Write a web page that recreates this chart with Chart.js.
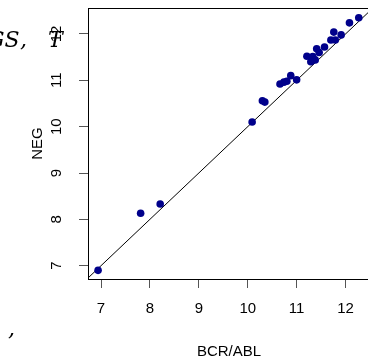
<!DOCTYPE html>
<html>
<head>
<meta charset="utf-8">
<script src="https://cdn.jsdelivr.net/npm/chart.js@4/dist/chart.umd.min.js"></script>
<style>
  html, body { margin: 0; padding: 0; background: #fff; overflow: hidden; }
  #wrap { position: relative; width: 368px; height: 359px; overflow: hidden; }
  #chart { position: absolute; left: 0; top: 0; }
  .side { position: absolute; font-family: "DejaVu Serif", serif; font-style: italic;
          font-size: 22px; line-height: 22px; color: #000; white-space: pre; }
</style>
</head>
<body>
<div id="wrap">
  <canvas id="chart" width="380" height="359"></canvas>
  <div class="side" style="left:-13px; top:29px;">GS</div>
  <div class="side" style="left:20px; top:29px;">,</div>
  <div class="side" style="left:48px; top:29px;">T</div>
  <div class="side" style="left:8px; top:318px;">,</div>
</div>
<script>
// BCR/ABL vs NEG (log expression)
const bcrAbl = [6.94, 7.81, 8.21, 10.09, 10.30, 10.35, 10.66, 10.74, 10.80, 10.88, 11.00,
                11.21, 11.29, 11.33, 11.38, 11.41, 11.46, 11.57, 11.70, 11.76, 11.79, 11.91, 12.08, 12.27];
const neg    = [6.90, 8.13, 8.33, 10.10, 10.56, 10.53, 10.92, 10.96, 10.98, 11.10, 11.01,
                11.52, 11.40, 11.51, 11.44, 11.68, 11.60, 11.72, 11.87, 12.04, 11.87, 11.98, 12.24, 12.35];
const xTicks = [7, 8, 9, 10, 11, 12];
const yTicks = [7, 8, 9, 10, 11, 12];
const refLine = [6, 13];   // identity line y = x

const font = { family: "'Liberation Sans', Arial, sans-serif", size: 15 };

const setTicks = vals => scale => { scale.ticks = vals.map(v => ({ value: v })); };

const boxPlugin = {
    id: 'box',
    afterDraw(chart) {
        const { ctx, chartArea: a } = chart;
        const y = chart.scales.y;
        ctx.save();
        ctx.strokeStyle = '#000';
        ctx.lineWidth = 1;
        ctx.strokeRect(a.left + 0.5, a.top + 0.5, a.right - a.left, a.bottom - a.top);

        // rotated y tick labels (R style, las = 0)
        ctx.fillStyle = '#000';
        ctx.font = `${font.size}px ${font.family}`;
        ctx.textAlign = 'center';
        ctx.textBaseline = 'middle';
        yTicks.forEach(v => {
            ctx.save();
            ctx.translate(57, y.getPixelForValue(v));
            ctx.rotate(-Math.PI / 2);
            ctx.fillText(String(v), 0, 0);
            ctx.restore();
        });
        ctx.restore();
    }
};

new Chart(document.getElementById('chart'), {
    type: 'scatter',
    data: {
        datasets: [{
            data: bcrAbl.map((x, i) => ({ x: x, y: neg[i] })),
            backgroundColor: '#00008B',
            borderColor: '#00008B',
            borderWidth: 0,
            pointRadius: 3.8,
            order: 1
        }, {
            type: 'line',
            data: refLine.map(v => ({ x: v, y: v })),
            borderColor: '#000',
            borderWidth: 1,
            pointRadius: 0,
            fill: false,
            order: 2
        }]
    },
    options: {
        responsive: false,
        animation: false,
        events: [],
        layout: { padding: { top: 8, right: 10, left: 0, bottom: 0 } },
        plugins: { legend: { display: false }, tooltip: { enabled: false } },
        scales: {
            x: {
                type: 'linear',
                min: 6.734,
                max: 12.5,
                afterBuildTicks: setTicks(xTicks),
                afterFit: scale => { scale.height = 80; },
                grid: { drawOnChartArea: false, tickLength: 9, color: '#555' },
                border: { display: true, color: '#000' },
                ticks: { color: '#000', font: font, padding: 12, maxRotation: 0 },
                title: { display: true, text: 'BCR/ABL', color: '#000', font: { ...font, lineHeight: 1 }, padding: 0 }
            },
            y: {
                type: 'linear',
                min: 6.713,
                max: 12.56,
                afterBuildTicks: setTicks(yTicks),
                afterFit: scale => { scale.width = 88; },
                grid: { drawOnChartArea: false, tickLength: 9, color: '#555' },
                border: { display: true, color: '#000' },
                ticks: { display: false },
                title: { display: true, text: 'NEG', color: '#000', font: { ...font, lineHeight: 1 }, padding: { top: 30, bottom: 0 } }
            }
        }
    },
    plugins: [boxPlugin]
});
</script>
</body>
</html>
